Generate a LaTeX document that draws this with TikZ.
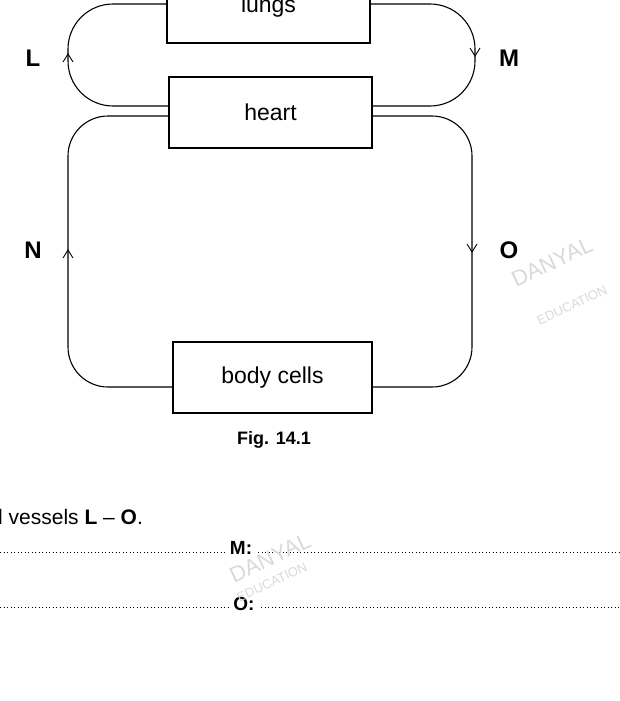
\documentclass[tikz,border=0pt]{standalone}
\usepackage{fontspec}
\setmainfont{Liberation Sans}
\begin{document}
\begin{tikzpicture}[x=1pt,y=-1pt,
  box/.style={draw,line width=1.2pt,inner sep=0pt,font=\fontsize{23}{26}\selectfont},
  vessel/.style={line width=1.1pt,rounded corners=40pt},
  lab/.style={font=\bfseries\fontsize{24}{28}\selectfont},
  tip/.style={line width=0.9pt},
  dots/.style={line width=1pt,dash pattern=on 0.9pt off 2.6pt},
  wm/.style={text=gray!30,font=\fontsize{22}{24}\selectfont\rmfamily,rotate=25}]
\useasboundingbox (0,0) rectangle (620,701);
\draw[line width=1.2pt] (167,-2) -- (167,43) -- (370,43) -- (370,-2);
\node[font=\fontsize{23}{26}\selectfont] (lungs) at (268.5,7) {lungs};
\coordinate (lw) at (167,4);
\coordinate (le) at (370,4);
\node[box,minimum height=71pt,minimum width=203pt] (heart) at (270.5,112.5) {heart};
\node[box,minimum height=71pt,minimum width=199pt] (cells) at (272.5,377.5) {\raisebox{3pt}{body cells}};
\coordinate (a2) at (heart.west |- 0,106);
\coordinate (b2) at (heart.east |- 0,106);
\coordinate (c1) at (heart.west |- 0,116);
\coordinate (c2) at (cells.west |- 0,387);
\coordinate (d1) at (heart.east |- 0,116);
\coordinate (d2) at (cells.east |- 0,387);
\draw[vessel,rounded corners=45pt] (lw) -- (68,4) -- (68,106) -- (a2);
\draw[vessel,rounded corners=45pt] (le) -- (475,4) -- (475,106) -- (b2);
\draw[vessel] (c1) -- (68,116) -- (68,387) -- (c2);
\draw[vessel] (d1) -- (472,116) -- (472,387) -- (d2);
\draw[tip] (63,62) -- (68,54) -- (73,62);
\draw[tip] (470,48) -- (475,56) -- (480,48);
\draw[tip] (63,258) -- (68,250) -- (73,258);
\draw[tip] (467,244) -- (472,252) -- (477,244);
\node[lab] (L) at (33,58) {L};
\node[lab] (M) at (509,58) {M};
\node[lab] (N) at (33,250) {N};
\node[lab] (O) at (509,250) {O};
\node[font=\bfseries\fontsize{18}{21}\selectfont] (fig) at (274,440) {Fig. 14.1};
\node[anchor=west,font=\fontsize{21}{24}\selectfont,inner sep=0pt] (q) at (-2,517) {l vessels \textbf{L} -- \textbf{O}.};
\draw[dots] (0,552) -- (225,552);
\node[font=\bfseries\fontsize{19}{22}\selectfont] (m) at (241,548) {M:};
\draw[dots] (258,552) -- (620,552);
\draw[dots] (0,607) -- (228,607);
\node[font=\bfseries\fontsize{19}{22}\selectfont] (o) at (244,604) {O:};
\draw[dots] (261,607) -- (620,607);
\node[wm] at (552,262) {DANYAL};
\node[wm,font=\fontsize{13}{15}\selectfont\rmfamily] at (572,305) {EDUCATION};
\node[wm] at (270,558) {DANYAL};
\node[wm,font=\fontsize{13}{15}\selectfont\rmfamily] at (272,582) {EDUCATION};
\end{tikzpicture}
\end{document}
